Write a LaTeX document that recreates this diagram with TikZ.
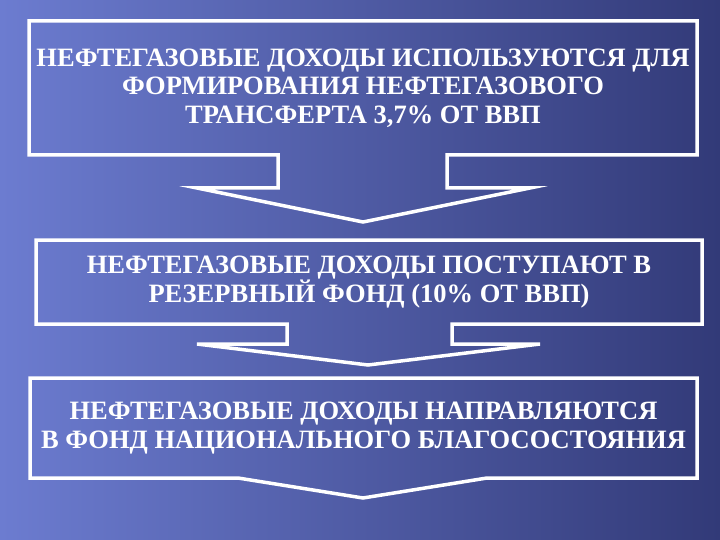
\documentclass[tikz,border=0pt]{standalone}
\usepackage{fontspec}
\setmainfont{Liberation Serif}
\usepackage{xcolor}
\usepackage{tikz}
\usetikzlibrary{positioning}
\definecolor{bgleft}{RGB}{108,124,208}
\definecolor{bgmid}{RGB}{68,80,160}
\definecolor{bgright}{RGB}{50,58,120}

\begin{document}
\begin{tikzpicture}[
  x=1pt, y=-1pt,
  mynode/.style={inner sep=0pt,outer sep=0pt,text=white,align=center,
    font=\fontsize{26.5}{28.5}\selectfont\bfseries},
  myline/.style={draw=white,line width=3.5pt,line join=miter}
    ]

\shade[left color=bgleft,middle color=bgmid,right color=bgright] (0,0) rectangle (720,540);
\useasboundingbox (0,0) rectangle (720,540);

\node[mynode,minimum width=668pt,minimum height=134pt] (d1) at (363,88)
  {НЕФТЕГАЗОВЫЕ ДОХОДЫ ИСПОЛЬЗУЮТСЯ ДЛЯ\\ФОРМИРОВАНИЯ НЕФТЕГАЗОВОГО\\ТРАНСФЕРТА 3,7\% ОТ ВВП};
\node[mynode,minimum width=666pt,minimum height=84pt] (d2) at (369,282)
  {НЕФТЕГАЗОВЫЕ ДОХОДЫ ПОСТУПАЮТ В\\РЕЗЕРВНЫЙ ФОНД (10\% ОТ ВВП)};
\node[mynode,minimum width=667pt,minimum height=100pt] (d3) at (363.5,428)
  {НЕФТЕГАЗОВЫЕ ДОХОДЫ НАПРАВЛЯЮТСЯ\\В ФОНД НАЦИОНАЛЬНОГО БЛАГОСОСТОЯНИЯ};

% box outlines with the arrow below each one
\draw[myline] (d1.south west) -- (d1.north west) -- (d1.north east) -- (d1.south east)
  -- ++(-250,0) -- ++(0,33) -- ++(83,0) -- ++(-167,34) -- ++(-166,-34) -- ++(81,0)
  -- ++(0,-33) -- cycle;
\draw[myline] (d2.south west) -- (d2.north west) -- (d2.north east) -- (d2.south east)
  -- ++(-250,0) -- ++(0,20) -- ++(88,0) -- ++(-172,21) -- ++(-171,-21) -- ++(90,0)
  -- ++(0,-20) -- cycle;
\draw[myline] (d3.south west) -- (d3.north west) -- (d3.north east) -- (d3.south east)
  -- ++(-210,0) -- ++(-124,20) -- ++(-125,-20) -- cycle;
\end{tikzpicture}
\end{document}
